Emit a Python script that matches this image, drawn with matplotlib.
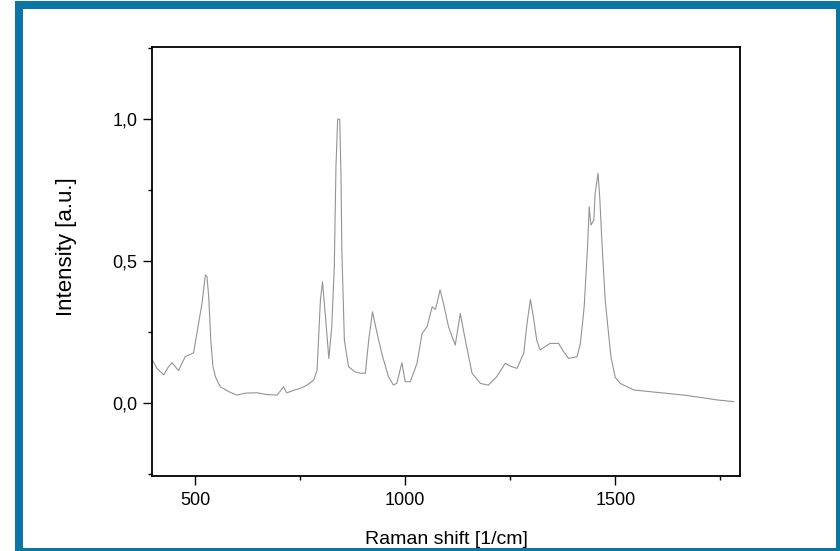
import matplotlib
matplotlib.use("Agg")
import matplotlib.pyplot as plt
from matplotlib.patches import Rectangle
from matplotlib.ticker import MultipleLocator, FuncFormatter

# Raman spectrum, normalised to the strongest band
shift_cm = [
    398, 409, 425, 435, 445, 460, 476, 496, 508, 516, 524, 528, 532, 537, 542,
    548, 555, 560, 580, 599, 620, 647, 670, 695, 710, 718, 735, 750, 765, 782,
    790, 798, 803, 810, 818, 825, 831, 835, 839, 844, 847, 849, 855, 865, 880,
    893, 905, 913, 922, 933, 945, 960, 972, 980, 992, 1000, 1012, 1028, 1040,
    1052, 1064, 1072, 1083, 1091, 1103, 1119, 1131, 1143, 1159, 1179, 1198,
    1218, 1238, 1250, 1266, 1282, 1290, 1298, 1305, 1313, 1321, 1345, 1365,
    1377, 1389, 1409, 1417, 1426, 1434, 1438, 1442, 1449, 1452, 1459, 1463,
    1468, 1476, 1484, 1490, 1500, 1512, 1544, 1583, 1623, 1663, 1702, 1742,
    1782,
]
intensity = [
    0.151, 0.122, 0.099, 0.125, 0.142, 0.114, 0.163, 0.177, 0.281, 0.351, 0.451,
    0.445, 0.374, 0.222, 0.130, 0.093, 0.070, 0.057, 0.040, 0.028, 0.035, 0.036,
    0.030, 0.028, 0.057, 0.036, 0.045, 0.052, 0.062, 0.081, 0.116, 0.363, 0.427,
    0.304, 0.157, 0.269, 0.480, 0.832, 0.999, 1.000, 0.797, 0.539, 0.222, 0.128,
    0.110, 0.105, 0.105, 0.222, 0.321, 0.245, 0.169, 0.093, 0.063, 0.070, 0.142,
    0.075, 0.075, 0.140, 0.245, 0.269, 0.339, 0.330, 0.398, 0.351, 0.269, 0.204,
    0.316, 0.222, 0.105, 0.069, 0.063, 0.093, 0.140, 0.130, 0.122, 0.175, 0.281,
    0.365, 0.304, 0.222, 0.187, 0.210, 0.210, 0.181, 0.157, 0.163, 0.210, 0.339,
    0.550, 0.691, 0.627, 0.644, 0.738, 0.809, 0.726, 0.574, 0.363, 0.245, 0.160,
    0.090, 0.069, 0.046, 0.040, 0.034, 0.028, 0.020, 0.011, 0.005,
]

W, H = 840, 551
plt.rcParams["font.family"] = ["Liberation Sans", "DejaVu Sans"]

fig = plt.figure(figsize=(W / 100, H / 100), dpi=100)
ax = fig.add_axes([152 / W, 1 - 476 / H, 588 / W, 429 / H])

ax.plot(shift_cm, intensity, color="#939393", linewidth=0.8)

ax.set_xlim(397, 1797)
ax.set_ylim(-0.257, 1.254)
ax.xaxis.set_major_locator(MultipleLocator(500))
ax.xaxis.set_minor_locator(MultipleLocator(250))
ax.yaxis.set_major_locator(MultipleLocator(0.5))
ax.yaxis.set_minor_locator(MultipleLocator(0.25))
ax.yaxis.set_major_formatter(FuncFormatter(lambda v, _: f"{v:.1f}".replace(".", ",")))

ax.tick_params(which="major", direction="out", length=6.5, width=1.0,
               labelsize=13, pad=4, top=False, right=False)
ax.tick_params(axis="x", which="major", pad=5)
ax.tick_params(which="minor", direction="out", length=3.2, width=1.0,
               top=False, right=False)
for side in ax.spines.values():
    side.set_linewidth(1.3)

ax.set_xlabel("Raman shift [1/cm]", fontsize=14)
ax.set_ylabel("Intensity [a.u.]", fontsize=16)
ax.xaxis.set_label_coords(0.5, -0.128)
ax.yaxis.set_label_coords(-0.128, 0.535)


def frame_band(x0, y0, x1, y1, color):
    # band given in pixels measured from the top-left corner
    fig.add_artist(Rectangle((x0 / W, 1 - y1 / H), (x1 - x0) / W, (y1 - y0) / H,
                             transform=fig.transFigure, facecolor=color,
                             edgecolor="none"))


blue = "#0b76a6"
frame_band(15, 1, 840, 9, blue)
frame_band(15, 1, 23, 551, blue)
frame_band(15, 548, 840, 551, blue)
frame_band(836, 1, 840, 551, blue)

fig.savefig("out.png", dpi=100)
